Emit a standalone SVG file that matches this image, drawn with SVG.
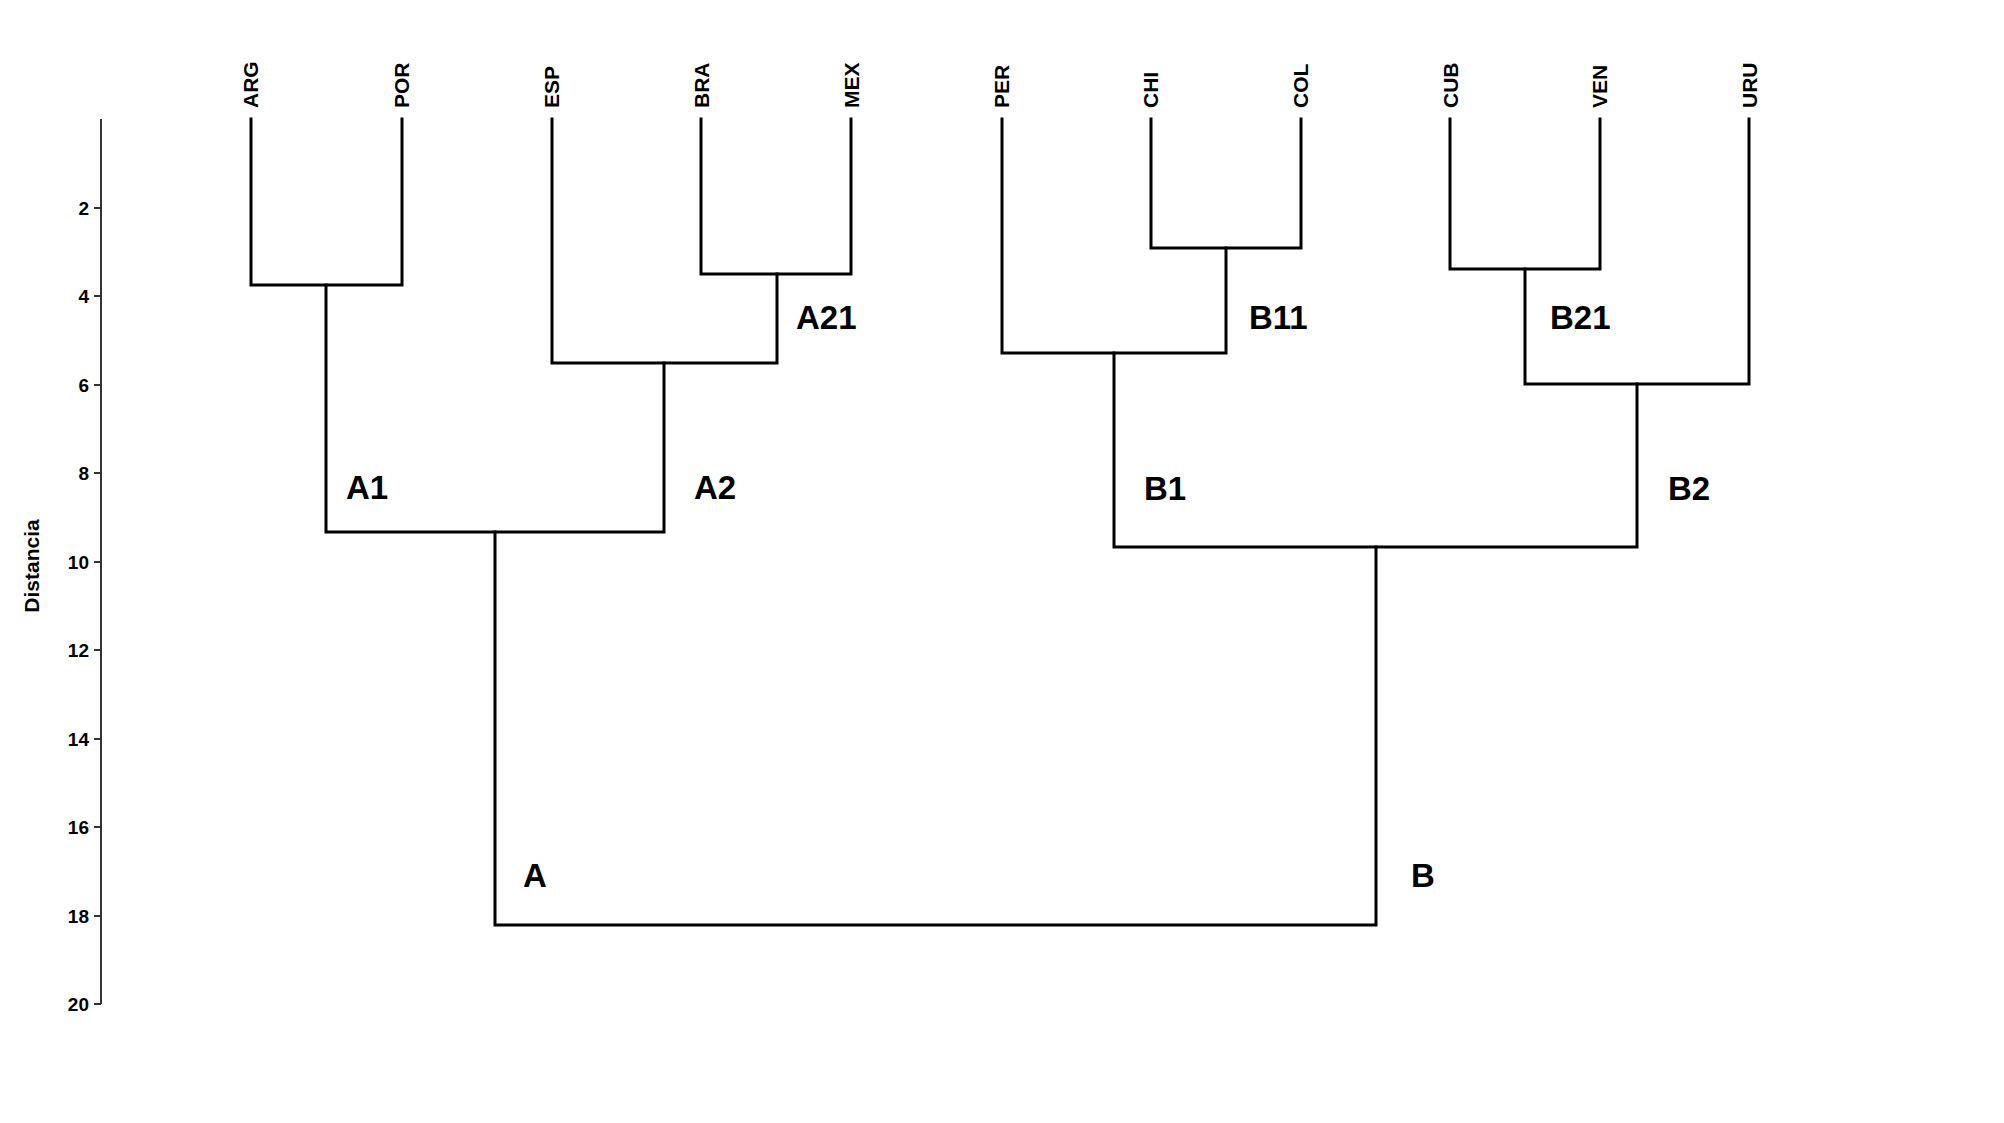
<svg xmlns="http://www.w3.org/2000/svg" width="2004" height="1123" viewBox="0 0 2004 1123">
<style>
.ln{fill:none;stroke:#000;stroke-width:3;stroke-linecap:square}
.ax{fill:none;stroke:#333;stroke-width:2}
.leaf{font-family:"Liberation Sans",Arial,sans-serif;font-weight:bold;font-size:21px;fill:#000}
.cl{font-family:"Liberation Sans",Arial,sans-serif;font-weight:bold;font-size:33px;fill:#000}
.tk{font-family:"Liberation Sans",Arial,sans-serif;font-weight:bold;font-size:19px;fill:#000;text-anchor:end;dominant-baseline:central}
</style>
<rect width="2004" height="1123" fill="#fff"/>
<g id="axis">
<path class="ax" d="M101 119V1004M94 208H101M94 296H101M94 385H101M94 473H101M94 562H101M94 650H101M94 739H101M94 827H101M94 916H101M94 1004H101"/>
<text class="tk" x="89" y="208">2</text>
<text class="tk" x="89" y="296">4</text>
<text class="tk" x="89" y="385">6</text>
<text class="tk" x="89" y="473">8</text>
<text class="tk" x="89" y="562">10</text>
<text class="tk" x="89" y="650">12</text>
<text class="tk" x="89" y="739">14</text>
<text class="tk" x="89" y="827">16</text>
<text class="tk" x="89" y="916">18</text>
<text class="tk" x="89" y="1004">20</text>
<text class="leaf" font-size="18" transform="translate(39,566) rotate(-90)" text-anchor="middle">Distancia</text>
</g>
<g id="leaves">
<text class="leaf" transform="translate(258,108) rotate(-90)">ARG</text>
<text class="leaf" transform="translate(409,108) rotate(-90)">POR</text>
<text class="leaf" transform="translate(559,108) rotate(-90)">ESP</text>
<text class="leaf" transform="translate(709,108) rotate(-90)">BRA</text>
<text class="leaf" transform="translate(859,108) rotate(-90)">MEX</text>
<text class="leaf" transform="translate(1009,108) rotate(-90)">PER</text>
<text class="leaf" transform="translate(1158,108) rotate(-90)">CHI</text>
<text class="leaf" transform="translate(1308,108) rotate(-90)">COL</text>
<text class="leaf" transform="translate(1458,108) rotate(-90)">CUB</text>
<text class="leaf" transform="translate(1607,108) rotate(-90)">VEN</text>
<text class="leaf" transform="translate(1757,108) rotate(-90)">URU</text>
</g>
<g id="connectors">
<path class="ln" d="M251 119V285H402V119"/>
<path class="ln" d="M701 119V274H851V119"/>
<path class="ln" d="M552 119V363H777V274"/>
<path class="ln" d="M326 285V532H664V363"/>
<path class="ln" d="M1151 119V248H1301V119"/>
<path class="ln" d="M1002 119V353H1226V248"/>
<path class="ln" d="M1450 119V269H1600V119"/>
<path class="ln" d="M1525 269V384H1749V119"/>
<path class="ln" d="M1114 353V547H1637V384"/>
<path class="ln" d="M495 532V925H1376V547"/>
</g>
<g id="clusters">
<text class="cl" x="796" y="329">A21</text>
<text class="cl" x="346" y="499">A1</text>
<text class="cl" x="694" y="499">A2</text>
<text class="cl" x="1249" y="329">B11</text>
<text class="cl" x="1550" y="329">B21</text>
<text class="cl" x="1144" y="500">B1</text>
<text class="cl" x="1668" y="500">B2</text>
<text class="cl" x="523" y="887">A</text>
<text class="cl" x="1411" y="887">B</text>
</g>
</svg>
